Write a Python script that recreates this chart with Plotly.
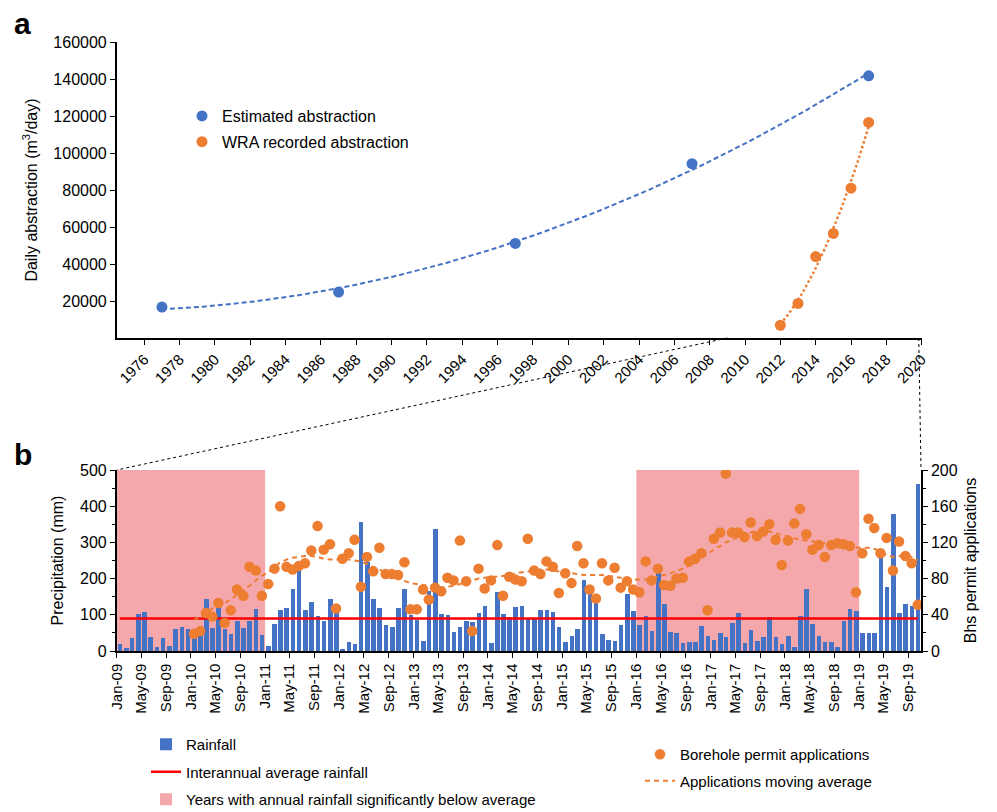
import numpy as np
import pandas as pd
import plotly.graph_objects as go

# ---------------- panel a: daily abstraction ----------------
est_years = [1977, 1987, 1997, 2007, 2017]
est_abstraction = [16700, 24800, 51100, 94200, 141700]
wra_years = [2012, 2013, 2014, 2015, 2016, 2017]
wra_abstraction = [6900, 18700, 44000, 56500, 81000, 116500]
year_ticks = list(range(1976, 2021, 2))
abstraction_ticks = list(range(20000, 160001, 20000))

# ---------------- panel b: rainfall and permits ----------------
first_month = "2009-01-01"
rainfall = [18, 7, 35, 102, 109, 40, 12, 36, 15, 60, 66, 62,
            42, 44, 145, 64, 122, 62, 48, 82, 64, 82, 117, 43,
            15, 75, 113, 119, 171, 225, 112, 134, 97, 84, 145, 112,
            5, 24, 19, 356, 247, 145, 118, 72, 67, 118, 171, 99,
            85, 27, 166, 336, 102, 99, 52, 66, 84, 79, 105, 124,
            21, 163, 101, 95, 122, 124, 89, 92, 112, 113, 108, 66,
            26, 41, 61, 195, 159, 145, 47, 30, 29, 71, 157, 111,
            71, 97, 55, 219, 130, 52, 51, 21, 25, 25, 69, 41,
            31, 49, 39, 78, 104, 23, 57, 29, 38, 95, 38, 20,
            42, 11, 97, 171, 74, 41, 26, 26, 10, 83, 115, 110,
            49, 49, 49, 265, 178, 379, 106, 131, 125, 461]
avg_rainfall = 90

permits_start = "2010-01-01"
permits = [19, 22, 42, 38, 53, 31, 45, 68, 61, 93, 89, 61,
           74, 91, 160, 93, 90, 94, 97, 111, 138, 112, 118, 47,
           102, 108, 123, 71, 104, 88, 114, 85, 85, 84, 98, 46,
           46, 68, 57, 70, 66, 81, 78, 122, 77, 22, 91, 69,
           78, 117, 61, 82, 79, 77, 124, 89, 85, 99, 93, 64,
           86, 75, 116, 97, 68, 58, 97, 78, 92, 70, 77, 68,
           65, 99, 78, 91, 73, 72, 80, 81, 99, 102, 108, 45,
           124, 131, 196, 131, 131, 126, 142, 127, 132, 140, 123, 95,
           122, 141, 157, 129, 112, 117, 104, 117, 119, 118, 116, 65,
           108, 146, 136, 108, 125, 89, 121, 105, 97, 51]
permits_ma = [34, 38, 42, 47, 50, 53, 57, 62, 67, 72, 78, 83,
              87, 93, 98, 101, 103, 104, 105, 105, 104, 102, 101, 101,
              101, 101, 100, 99, 96, 93, 90, 87, 84, 80, 77, 75,
              74, 73, 72, 71, 70, 71, 72, 74, 76, 78, 80, 81,
              82, 82, 83, 84, 86, 87, 88, 89, 90, 90, 89, 88,
              87, 86, 85, 84, 84, 84, 84, 83, 82, 81, 80, 79,
              79, 79, 80, 82, 84, 86, 88, 91, 94, 98, 103, 108,
              112, 116, 120, 123, 126, 128, 131, 133, 133, 132, 130, 128,
              126, 124, 123, 122, 121, 120, 119, 118, 117, 116, 115, 114,
              114, 114, 113, 110, 106, 104, 105, 106, 104, 100]
dry_spells = [(2009, 2010), (2016, 2018)]

BLUE = "#4472C4"
ORANGE = "#ED7D31"
PINK = "#F5A8AB"
FONT = "Liberation Sans, Arial, sans-serif"
W, H = 997, 812


def px(x):
    return x / W


def py(y):
    return 1 - y / H


months = pd.date_range(first_month, periods=len(rainfall), freq="MS")
bar_x = months + pd.Timedelta(days=15)
permit_x = pd.date_range(permits_start, periods=len(permits), freq="MS") + pd.Timedelta(days=15)
month_ms = 30.44 * 24 * 3600 * 1000

# quadratic trendlines (as in the spreadsheet)
est_fit = np.polyfit(est_years, est_abstraction, 2)
wra_fit = np.polyfit(wra_years, wra_abstraction, 2)
est_t = np.linspace(est_years[0], est_years[-1], 120)
wra_t = np.linspace(wra_years[0], wra_years[-1], 60)

fig = go.Figure()

# panel a
fig.add_trace(go.Scatter(x=est_t, y=np.polyval(est_fit, est_t), mode="lines",
                         line=dict(color=BLUE, width=2, dash="5px,3px"),
                         showlegend=False, hoverinfo="skip"))
fig.add_trace(go.Scatter(x=wra_t, y=np.polyval(wra_fit, wra_t), mode="lines",
                         line=dict(color=ORANGE, width=2.5, dash="2.5px,2.5px"),
                         showlegend=False, hoverinfo="skip"))
fig.add_trace(go.Scatter(x=est_years, y=est_abstraction, mode="markers",
                         marker=dict(color=BLUE, size=11),
                         name="Estimated abstraction", legendgroup="e"))
fig.add_trace(go.Scatter(x=wra_years, y=wra_abstraction, mode="markers",
                         marker=dict(color=ORANGE, size=11),
                         name="WRA recorded abstraction", legendgroup="w"))

# panel b
fig.add_trace(go.Bar(x=bar_x, y=rainfall, xaxis="x2", yaxis="y2", width=0.74 * month_ms,
                     marker=dict(color=BLUE, line=dict(width=0)),
                     name="Rainfall", legend="legend2", legendgroup="r", legendrank=1))
fig.add_trace(go.Scatter(x=bar_x, y=[avg_rainfall] * len(bar_x), xaxis="x2", yaxis="y2",
                         mode="lines", line=dict(color="#FF0000", width=2.5),
                         name="Interannual average rainfall", legend="legend2",
                         legendgroup="i", legendrank=2))
fig.add_trace(go.Scatter(x=permit_x, y=permits, xaxis="x2", yaxis="y3", mode="markers",
                         marker=dict(color=ORANGE, size=10.5),
                         name="Borehole permit applications", legend="legend3",
                         legendgroup="p", legendrank=1))
fig.add_trace(go.Scatter(x=permit_x, y=permits_ma, xaxis="x2", yaxis="y3", mode="lines",
                         line=dict(color=ORANGE, width=2, dash="5px,4px"),
                         name="Applications moving average", legend="legend3",
                         legendgroup="m", legendrank=2))

for k, (y0, y1) in enumerate(dry_spells):
    fig.add_shape(type="rect", xref="x2", yref="y2 domain",
                  x0=f"{y0}-01-01", x1=f"{y1 + 1}-01-01", y0=0, y1=1,
                  fillcolor=PINK, line=dict(width=0), layer="below",
                  showlegend=(k == 0), legend="legend2", legendgroup="d", legendrank=3,
                  name="Years with annual rainfall significantly below average")

# domains / ranges
xa_dom = [px(116.7), px(921.7)]
xa_rng = [1974.44, 2020]
ya_dom = [py(338), py(42)]
xb_dom = [px(116.7), px(921)]
xb_rng = [first_month, "2019-11-01"]
yb_dom = [py(651), py(470)]


def xa_paper(year):
    return xa_dom[0] + (year - xa_rng[0]) / (xa_rng[1] - xa_rng[0]) * (xa_dom[1] - xa_dom[0])


# dashed connectors from panel a (2009 .. end of record) to panel b
end_year = 2019 + 10 / 12
for ya_year, xb in [(2009, xb_dom[0]), (end_year, xb_dom[1])]:
    fig.add_shape(type="line", xref="paper", yref="paper",
                  x0=xa_paper(ya_year), y0=ya_dom[0], x1=xb, y1=yb_dom[1],
                  line=dict(color="black", width=1, dash="3px,3px"))

axis_common = dict(showgrid=False, zeroline=False, showline=True, linecolor="black",
                   linewidth=1.5, ticks="outside", tickcolor="black", ticklen=5,
                   automargin=False, tickfont=dict(size=16, color="black"))

fig.update_layout(
    template="none",
    width=W, height=H,
    margin=dict(l=0, r=0, t=0, b=0, autoexpand=False),
    paper_bgcolor="white", plot_bgcolor="white",
    font=dict(family=FONT, color="black", size=16),
    bargap=0,
    xaxis=dict(domain=xa_dom, range=xa_rng, tickvals=year_ticks, tickangle=-45,
               anchor="y", **{**axis_common, "tickfont": dict(size=15, color="black")}),
    yaxis=dict(domain=ya_dom, range=[0, 160000], tickvals=abstraction_ticks,
               tickformat="d", anchor="x",
               title=dict(text="Daily abstraction (m<sup>3</sup>/day)", standoff=12,
                          font=dict(size=16)),
               **axis_common),
    xaxis2=dict(domain=xb_dom, range=xb_rng, type="date", tick0=first_month, dtick="M4",
                tickformat="%b-%y", tickangle=-90, anchor="y2",
                **{**axis_common, "tickfont": dict(size=15, color="black")}),
    yaxis2=dict(domain=yb_dom, range=[0, 500], dtick=100, anchor="x2",
                minor=dict(dtick=50, ticks="outside", ticklen=3, tickcolor="black"),
                title=dict(text="Precipitation (mm)", standoff=12, font=dict(size=16)),
                **axis_common),
    yaxis3=dict(range=[0, 200], dtick=40, overlaying="y2", side="right", anchor="x2",
                minor=dict(dtick=20, ticks="outside", ticklen=3, tickcolor="black"),
                title=dict(text="Bhs permit applications", standoff=8, font=dict(size=16)),
                **axis_common),
    legend=dict(x=px(182), y=py(99), xanchor="left", yanchor="top",
                bgcolor="rgba(0,0,0,0)", font=dict(size=16), tracegroupgap=2,
                traceorder="grouped"),
    legend2=dict(x=px(146), y=py(728), xanchor="left", yanchor="top",
                 bgcolor="rgba(0,0,0,0)", font=dict(size=15), tracegroupgap=5,
                 traceorder="grouped"),
    legend3=dict(x=px(640), y=py(738), xanchor="left", yanchor="top",
                 bgcolor="rgba(0,0,0,0)", font=dict(size=15), tracegroupgap=4,
                 traceorder="grouped"),
    annotations=[
        dict(text="<b>a</b>", x=px(12), y=py(23), xref="paper", yref="paper",
             xanchor="left", yanchor="middle", showarrow=False, font=dict(size=30)),
        dict(text="<b>b</b>", x=px(12), y=py(455), xref="paper", yref="paper",
             xanchor="left", yanchor="middle", showarrow=False, font=dict(size=30)),
    ],
)

# the figure is sized to the full window, so drop the default page margin
fig.write_html("out.html", config={"displayModeBar": False},
               post_script="document.body.style.margin = '0';")
